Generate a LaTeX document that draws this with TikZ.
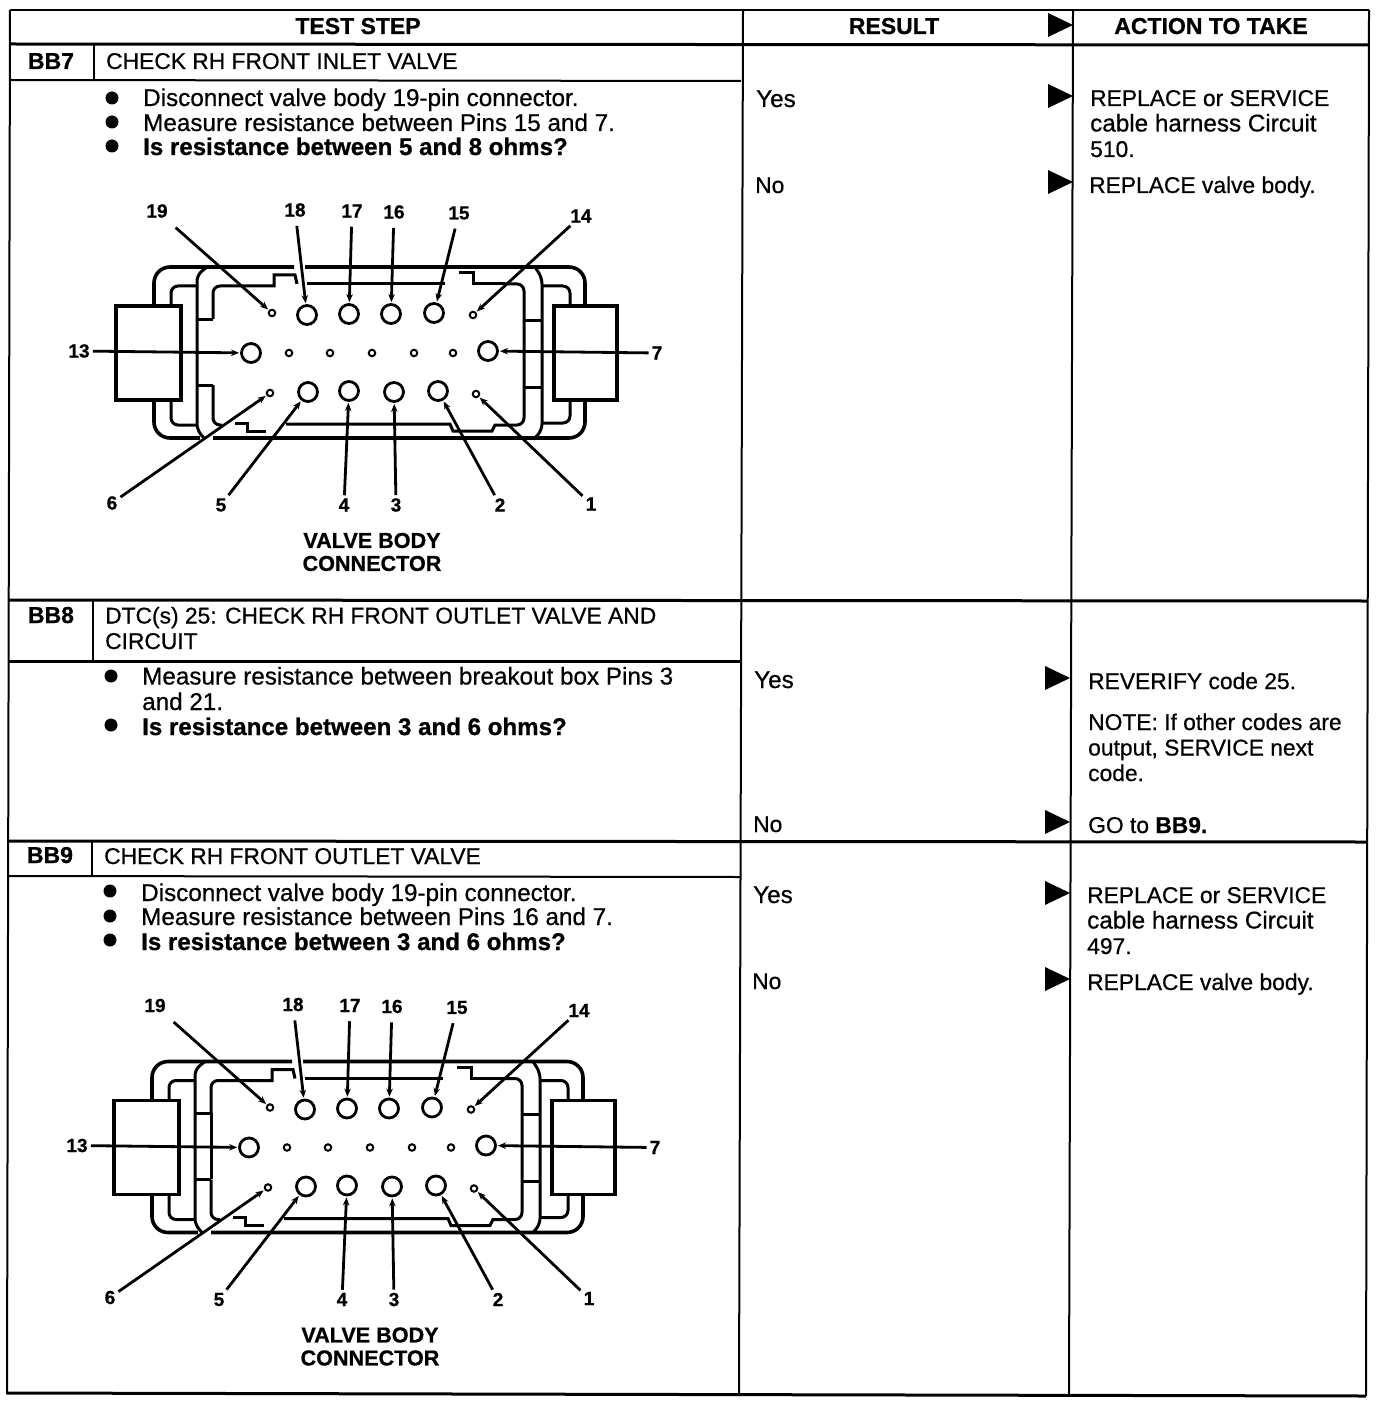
\documentclass[tikz,border=0pt]{standalone}
\usepackage{fontspec}
\setmainfont{Liberation Sans}[FakeBold=0.6, BoldFeatures={FakeBold=0.8}]
\usetikzlibrary{arrows.meta}

\newcommand{\tipmark}[2]{\fill ({#1},{#2-12}) -- ({#1+25},{#2}) -- ({#1},{#2+12}) -- cycle;}
\newcommand{\dotmark}[2]{\fill (#1,#2) circle (6.5);}
\newcommand{\wide}{\fontsize{24.25}{25.5}\selectfont}

\tikzset{
  shell/.style={line width=3.6pt, rounded corners=16pt},
  wall/.style={line width=3pt},
  pinbig/.style={circle, draw, line width=2.8pt, minimum size=19pt, inner sep=0pt},
  pinsmall/.style={circle, draw, line width=2pt, minimum size=6.5pt, inner sep=0pt},
  pinlabel/.style={font=\fontsize{19}{19}\selectfont\bfseries, inner sep=3pt},
  leader/.style={line width=2.8pt, -{Stealth[length=8pt,width=6.5pt]}, shorten >=1pt},
  pics/valvebody/.style={code={
    \draw[shell] (154,306) -- (154,267) -- (294,267);
    \draw[shell] (305,267) -- (585,267) -- (585,306);
    \draw[shell] (154,400) -- (154,438) -- (200,438);
    \draw[shell] (213,438) -- (585,438) -- (585,400);
    \draw[wall, line width=3.4pt] (116,306) rectangle (181,400);
    \draw[wall, line width=3.4pt] (554,306) rectangle (617,400);
    \draw[wall, rounded corners=6pt] (207,267) -- (197,275) -- (197,430) -- (204,438);
    \draw[wall, rounded corners=6pt] (535,267) -- (542,278) -- (542,430) -- (535,438);
    \draw[wall, rounded corners=7pt] (171,306) -- (171,286) -- (197,286);
    \draw[wall, rounded corners=7pt] (171,400) -- (171,425) -- (197,425);
    \draw[wall, rounded corners=7pt] (542,286) -- (570,286) -- (570,306);
    \draw[wall, rounded corners=7pt] (542,423) -- (570,423) -- (570,400);
    \draw[wall, rounded corners=7pt] (213,319) -- (213,286) -- (245,286);
    \draw[wall] (245,286) -- (274,286) -- (274,275) -- (295,275) -- (297,284);
    \draw[wall] (307,284) -- (445,284);
    \draw[wall] (459,273) -- (473,273) -- (473,284) -- (505,284);
    \draw[wall, rounded corners=7pt] (505,284) -- (524,284) -- (524,425) -- (505,425);
    \draw[wall] (505,425) -- (495,425) -- (492,431) -- (453,431) -- (450,424) -- (286,424);
    \draw[wall, rounded corners=7pt] (213,385) -- (213,425) -- (222,425);
    \draw[wall] (235,423) -- (247,423) -- (247,431) -- (266,431);
    \draw[wall] (197,319) -- (213,319);
    \draw[wall] (197,385) -- (213,385);
    \draw[wall] (524,320) -- (542,320);
    \draw[wall] (524,387) -- (542,387);
    \foreach \pinnum/\px/\py/\lx/\ly/\gap in {18/307/315/295/210/6, 17/349/314/352/211/6,
        16/391/314/394/212/6, 15/434/313/459/213/6, 13/251/353/79/351/0, 7/488/351/657/353/0,
        5/308/392/221/505/0, 4/349/391/344/505/0, 3/394/392/396/505/0, 2/438/391/500/505/0}{
      \node[pinbig] (pin\pinnum) at (\px,\py) {};
      \node[pinlabel] (lbl\pinnum) at (\lx,\ly) {\pinnum};
      \draw[leader, shorten <=\gap pt] (lbl\pinnum) -- (pin\pinnum);
    }
    \foreach \pinnum/\px/\py/\lx/\ly/\gap in {19/272/313/157/211/10, 14/473/315/581/216/0,
        6/270/393/112/503/0, 1/476/394/591/504/0}{
      \node[pinsmall] (pin\pinnum) at (\px,\py) {};
      \node[pinlabel] (lbl\pinnum) at (\lx,\ly) {\pinnum};
      \draw[leader, shorten <=\gap pt] (lbl\pinnum) -- (pin\pinnum);
    }
    \foreach \pinnum/\px in {8/289, 9/330, 10/372, 11/414, 12/453}{
      \node[pinsmall] (pin\pinnum) at (\px,353) {};
    }
    \node[font=\fontsize{21.6}{23}\selectfont\bfseries, align=center, inner sep=0pt] (caption) at (372,552)
      {VALVE BODY\\CONNECTOR};
  }}
}

\begin{document}
\begin{tikzpicture}[x=1pt, y=-1pt,
    plain/.style={anchor=base west, inner sep=0pt, align=left,
      font=\fontsize{22.8}{25.5}\selectfont},
    widetext/.style={plain, font=\wide},
    heavy/.style={plain, font=\fontsize{24.1}{25.5}\selectfont\bfseries},
    head/.style={anchor=base, inner sep=0pt, font=\fontsize{23}{25}\selectfont\bfseries},
    rule/.style={line width=2pt},
    thickrule/.style={line width=3pt}]
  \useasboundingbox (0,0) rectangle (1392,1404);

  \draw[rule] (10,10) -- (1369,10);
  \draw[rule] (10,10) -- (7,1394);
  \draw[rule] (1369,10) -- (1366,1396);
  \draw[rule] (743,10) -- (739,1396);
  \draw[rule] (1073,10) -- (1069,1396);
  \draw[thickrule] (10,44) -- (1369,45);
  \draw[rule] (10,80) -- (741,81);
  \draw[thickrule] (9,600) -- (1368,601);
  \draw[thickrule] (9,661) -- (741,661);
  \draw[thickrule] (8,841) -- (1367,842);
  \draw[rule] (8,876) -- (740,877);
  \draw[thickrule] (7,1393) -- (1366,1396);
  \draw[rule] (94,45) -- (94,80);
  \draw[rule] (93,601) -- (93,660);
  \draw[rule] (92,842) -- (92,876);

  \node[head] (teststep) at (358,34) {TEST STEP};
  \node[head] (result) at (894,34) {RESULT};
  \node[head] (action) at (1211,34) {ACTION TO TAKE};
  \tipmark{1048}{25}

  \node[head] (bbseven) at (51,69) {BB7};
  \node[plain] (bbseventitle) at (106,69) {CHECK RH FRONT INLET VALVE};
  \dotmark{112}{98}
  \dotmark{112}{122}
  \dotmark{112}{146}
  \node[widetext] (bbsevena) at (143,106) {Disconnect valve body 19-pin connector.};
  \node[widetext] (bbsevenb) at (143,131) {Measure resistance between Pins 15 and 7.};
  \node[heavy] (bbsevenc) at (143,155) {Is resistance between 5 and 8 ohms?};
  \node[widetext] (bbsevenyes) at (756,107) {Yes};
  \node[plain] (bbsevenno) at (755,193) {No};
  \tipmark{1048}{96}
  \tipmark{1048}{182}
  \node[plain] (bbsevenfix) at (1090,157) {REPLACE or SERVICE\\{\wide cable harness Circuit}\\510.};
  \node[plain] (bbsevenbody) at (1089,193) {REPLACE valve body.};
  \pic (top) at (0,0) {valvebody};

  \node[head] (bbeight) at (51,623) {BB8};
  \node[plain] (bbeighttitle) at (105,649) {DTC(s) 25: CHECK RH FRONT OUTLET VALVE AND\\CIRCUIT};
  \dotmark{111}{676}
  \dotmark{111}{725}
  \node[widetext] (bbeighta) at (142,710) {Measure resistance between breakout box Pins 3\\and 21.};
  \node[heavy] (bbeightb) at (142,735) {Is resistance between 3 and 6 ohms?};
  \node[widetext] (bbeightyes) at (754,688) {Yes};
  \node[plain] (bbeightno) at (753,832) {No};
  \tipmark{1045}{678}
  \tipmark{1045}{822}
  \node[plain] (bbeightfix) at (1088,689) {REVERIFY code 25.};
  \node[plain] (bbeightnote) at (1088,781) {NOTE: If other codes are\\output, SERVICE next\\code.};
  \node[plain] (bbeightgo) at (1088,833) {GO to \textbf{BB9.}};

  \node[head] (bbnine) at (50,863) {BB9};
  \node[plain] (bbninetitle) at (104,864) {CHECK RH FRONT OUTLET VALVE};
  \dotmark{110}{891}
  \dotmark{110}{916}
  \dotmark{110}{940}
  \node[widetext] (bbninea) at (141,901) {Disconnect valve body 19-pin connector.};
  \node[widetext] (bbnineb) at (141,925) {Measure resistance between Pins 16 and 7.};
  \node[heavy] (bbninec) at (141,950) {Is resistance between 3 and 6 ohms?};
  \node[widetext] (bbnineyes) at (753,903) {Yes};
  \node[plain] (bbnineno) at (752,989) {No};
  \tipmark{1045}{893}
  \tipmark{1045}{979}
  \node[plain] (bbninefix) at (1087,954) {REPLACE or SERVICE\\{\wide cable harness Circuit}\\497.};
  \node[plain] (bbninebody) at (1087,990) {REPLACE valve body.};
  \pic (low) at (-2,794.5) {valvebody};
  \draw[wall] (211,1113) -- (211,1179);
\end{tikzpicture}
\end{document}
